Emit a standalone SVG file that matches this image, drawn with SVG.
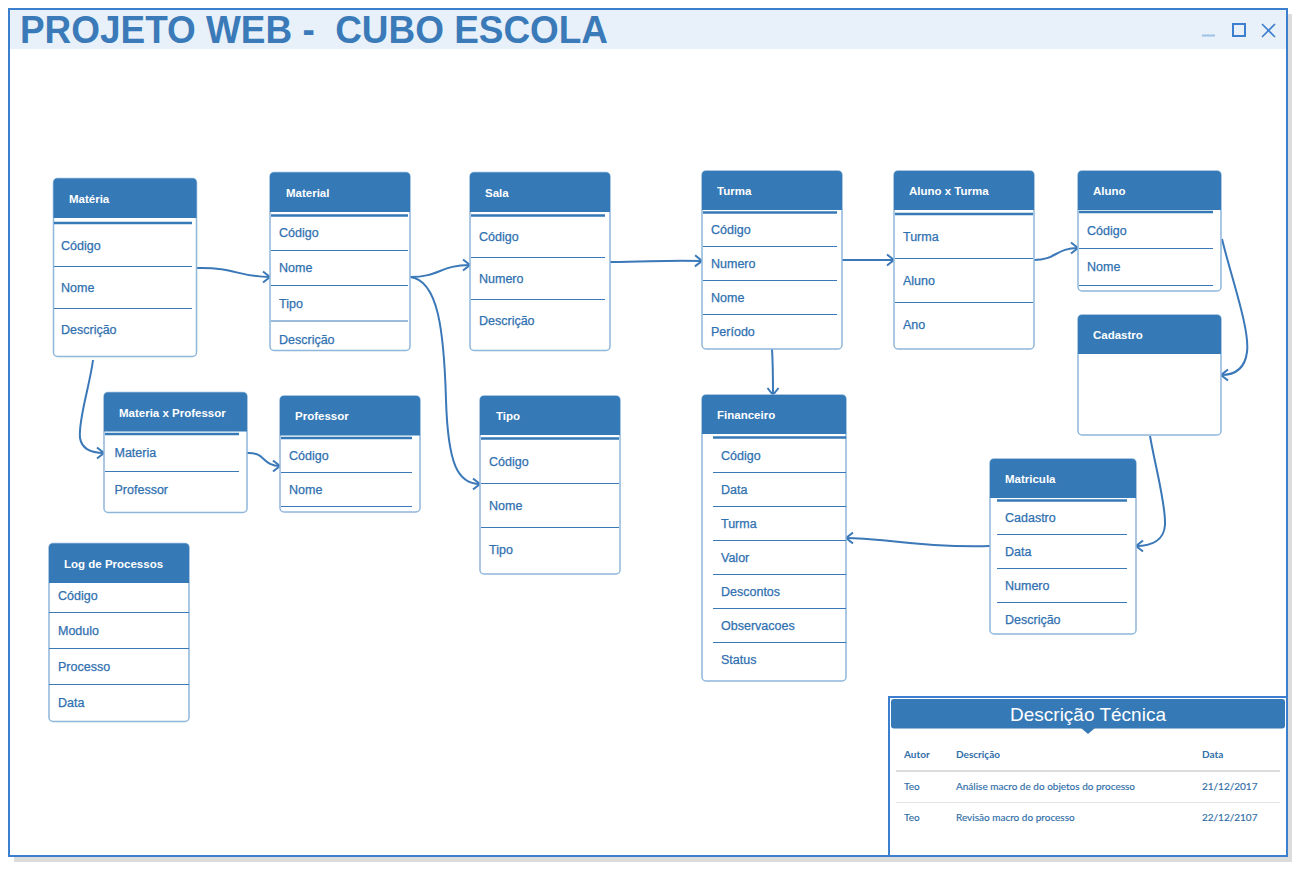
<svg xmlns="http://www.w3.org/2000/svg" width="1304" height="882" viewBox="0 0 1304 882">
<defs>
<style>
.box{fill:#fff;stroke:#8fb7dc;stroke-width:1.5}
.hdr{fill:#3579b6}
.sep{stroke:#3a78b8;stroke-width:1}
.dbl{stroke:#3579b6;stroke-width:2.5}
.ht{font-family:"Liberation Sans",Arial,sans-serif;font-size:11.5px;font-weight:bold;fill:#fff}
.rt{font-family:"Liberation Sans",Arial,sans-serif;font-size:12.5px;fill:#2f70b0;stroke:#2f70b0;stroke-width:0.25}
.conn{fill:none;stroke:#3a78b8;stroke-width:2;marker-end:url(#arr)}
.tt{font-family:Lato,"Liberation Sans",sans-serif;font-size:10px;fill:#2f6ea8;stroke:#2f6ea8;stroke-width:0.15}
.th{font-family:Lato,"Liberation Sans",sans-serif;font-size:10px;font-weight:bold;fill:#2f6ea8}
</style>
<marker id="arr" markerUnits="userSpaceOnUse" markerWidth="14" markerHeight="14" refX="10" refY="7" orient="auto">
<path d="M3,1.5 L10,7 L3,12.5" fill="none" stroke="#3a78b8" stroke-width="2"/>
</marker>
</defs>
<rect width="1304" height="882" fill="#fff"/>
<!-- window frame -->
<g id="frame">
<rect x="14" y="14" width="1278" height="848" fill="#dcdcdc"/>
<rect x="9" y="9" width="1278" height="847" fill="#fff" stroke="#3d7fcf" stroke-width="2"/>
<rect x="10" y="10" width="1276" height="39" fill="#e8f1f9"/>
<text x="20" y="43" xml:space="preserve" style="white-space:pre" font-family="'Liberation Sans',Arial,sans-serif" font-size="38" font-weight="bold" fill="#3a7ab8" textLength="588" lengthAdjust="spacingAndGlyphs">PROJETO WEB -  CUBO ESCOLA</text>
<line x1="1202" y1="35.5" x2="1215" y2="35.5" stroke="#9cc3e6" stroke-width="2"/>
<rect x="1233" y="24" width="12" height="12" fill="none" stroke="#3d7fcf" stroke-width="2"/>
<path d="M1262,24 L1275,37 M1275,24 L1262,37" stroke="#3d7fcf" stroke-width="1.6" fill="none"/>
</g>
<!-- connectors -->
<g id="connectors">
<path class="conn" d="M197,268 C235,267 238,277 270,277"/>
<path class="conn" d="M410,277 C440,277 440,265 470,265"/>
<path class="conn" d="M410,277 C438,280 444,330 446,400 C448,465 458,484 480,484"/>
<path class="conn" d="M610,262 C650,262 660,260 702,261"/>
<path class="conn" d="M842,260 L894,260"/>
<path class="conn" d="M1034,260 C1056,260 1056,248 1078,248"/>
<path class="conn" d="M1222,239 C1232,280 1250,330 1247,352 C1245,368 1236,375 1221,375"/>
<path class="conn" d="M1150,436 C1156,470 1166,505 1165,525 C1164,540 1152,546 1136,546"/>
<path class="conn" d="M990,546 C955,547 925,545 890,541 C870,539 860,538 846,538"/>
<path class="conn" d="M772,349 C773,365 773,380 773,395"/>
<path class="conn" d="M93,360 C90,385 78,420 80,438 C82,450 92,453 104,453"/>
<path class="conn" d="M247,453 C266,452 262,466 280,466"/>
</g>
<!-- Materia -->
<g id="materia">
<rect class="box" x="53.5" y="178.5" width="143" height="178" rx="4"/>
<path class="hdr" d="M53.5,218 V182.5 Q53.5,178.5 57.5,178.5 H192.5 Q196.5,178.5 196.5,182.5 V218 Z"/>
<line class="dbl" x1="54" y1="223" x2="192" y2="223"/>
<text class="ht" x="69" y="203">Matéria</text>
<line class="sep" x1="54" y1="266.5" x2="192" y2="266.5"/>
<line class="sep" x1="54" y1="308.5" x2="192" y2="308.5"/>
<text class="rt" x="61" y="250">Código</text>
<text class="rt" x="61" y="292">Nome</text>
<text class="rt" x="61" y="334">Descrição</text>
</g>
<!-- Material -->
<g id="material">
<rect class="box" x="270" y="172.5" width="140" height="178" rx="4"/>
<path class="hdr" d="M270,212 V176.5 Q270,172.5 274,172.5 H406 Q410,172.5 410,176.5 V212 Z"/>
<line class="dbl" x1="271" y1="215.5" x2="408" y2="215.5"/>
<text class="ht" x="286" y="197">Material</text>
<line class="sep" x1="271" y1="250.5" x2="408" y2="250.5"/>
<line class="sep" x1="271" y1="285.5" x2="408" y2="285.5"/>
<line class="sep" x1="271" y1="321" x2="408" y2="321"/>
<text class="rt" x="279" y="237">Código</text>
<text class="rt" x="279" y="272">Nome</text>
<text class="rt" x="279" y="308">Tipo</text>
<text class="rt" x="279" y="344">Descrição</text>
</g>
<!-- Sala -->
<g id="sala">
<rect class="box" x="470" y="172.5" width="140" height="178" rx="4"/>
<path class="hdr" d="M470,212 V176.5 Q470,172.5 474,172.5 H606 Q610,172.5 610,176.5 V212 Z"/>
<line class="dbl" x1="471" y1="215.5" x2="605" y2="215.5"/>
<text class="ht" x="485" y="197">Sala</text>
<line class="sep" x1="471" y1="257.5" x2="605" y2="257.5"/>
<line class="sep" x1="471" y1="299.5" x2="605" y2="299.5"/>
<text class="rt" x="479" y="241">Código</text>
<text class="rt" x="479" y="283">Numero</text>
<text class="rt" x="479" y="325">Descrição</text>
</g>
<!-- Turma -->
<g id="turma">
<rect class="box" x="702" y="171" width="140" height="178" rx="4"/>
<path class="hdr" d="M702,210 V175 Q702,171 706,171 H838 Q842,171 842,175 V210 Z"/>
<line class="dbl" x1="703" y1="212.5" x2="837" y2="212.5"/>
<text class="ht" x="717" y="195">Turma</text>
<line class="sep" x1="703" y1="246.5" x2="837" y2="246.5"/>
<line class="sep" x1="703" y1="280.5" x2="837" y2="280.5"/>
<line class="sep" x1="703" y1="314.5" x2="837" y2="314.5"/>
<text class="rt" x="711" y="234">Código</text>
<text class="rt" x="711" y="268">Numero</text>
<text class="rt" x="711" y="302">Nome</text>
<text class="rt" x="711" y="336">Período</text>
</g>
<!-- Aluno x Turma -->
<g id="aluno-turma">
<rect class="box" x="894" y="171" width="140" height="178" rx="4"/>
<path class="hdr" d="M894,210 V175 Q894,171 898,171 H1030 Q1034,171 1034,175 V210 Z"/>
<line class="dbl" x1="895" y1="214" x2="1033" y2="214"/>
<text class="ht" x="909" y="195">Aluno x Turma</text>
<line class="sep" x1="895" y1="258.5" x2="1033" y2="258.5"/>
<line class="sep" x1="895" y1="302.5" x2="1033" y2="302.5"/>
<text class="rt" x="903" y="241">Turma</text>
<text class="rt" x="903" y="285">Aluno</text>
<text class="rt" x="903" y="329">Ano</text>
</g>
<!-- Aluno -->
<g id="aluno">
<rect class="box" x="1078" y="171" width="143" height="120" rx="4"/>
<path class="hdr" d="M1078,210 V175 Q1078,171 1082,171 H1217 Q1221,171 1221,175 V210 Z"/>
<line class="dbl" x1="1079" y1="212" x2="1213" y2="212"/>
<text class="ht" x="1093" y="195">Aluno</text>
<line class="sep" x1="1079" y1="248.5" x2="1213" y2="248.5"/>
<line class="sep" x1="1079" y1="285.5" x2="1213" y2="285.5"/>
<text class="rt" x="1087" y="235">Código</text>
<text class="rt" x="1087" y="271">Nome</text>
</g>
<!-- Cadastro -->
<g id="cadastro">
<rect class="box" x="1078" y="315" width="143" height="120" rx="4"/>
<path class="hdr" d="M1078,354 V319 Q1078,315 1082,315 H1217 Q1221,315 1221,319 V354 Z"/>
<text class="ht" x="1093" y="339">Cadastro</text>
</g>
<!-- Materia x Professor -->
<g id="materia-professor">
<rect class="box" x="104" y="392.5" width="143" height="120" rx="4"/>
<path class="hdr" d="M104,431.5 V396.5 Q104,392.5 108,392.5 H243 Q247,392.5 247,396.5 V431.5 Z"/>
<line class="dbl" x1="105" y1="434" x2="239" y2="434"/>
<text class="ht" x="119" y="417">Materia x Professor</text>
<line class="sep" x1="105" y1="471.5" x2="239" y2="471.5"/>
<text class="rt" x="114.5" y="457">Materia</text>
<text class="rt" x="114.5" y="494">Professor</text>
</g>
<!-- Professor -->
<g id="professor">
<rect class="box" x="280" y="396" width="140" height="116" rx="4"/>
<path class="hdr" d="M280,435.5 V400 Q280,396 284,396 H416 Q420,396 420,400 V435.5 Z"/>
<line class="dbl" x1="281" y1="438" x2="412" y2="438"/>
<text class="ht" x="295" y="420">Professor</text>
<line class="sep" x1="281" y1="472.5" x2="412" y2="472.5"/>
<line class="sep" x1="281" y1="506.5" x2="412" y2="506.5"/>
<text class="rt" x="289" y="460">Código</text>
<text class="rt" x="289" y="494">Nome</text>
</g>
<!-- Tipo -->
<g id="tipo">
<rect class="box" x="480" y="396" width="140" height="178" rx="4"/>
<path class="hdr" d="M480,435 V400 Q480,396 484,396 H616 Q620,396 620,400 V435 Z"/>
<line class="dbl" x1="481" y1="438.5" x2="619" y2="438.5"/>
<text class="ht" x="496" y="420">Tipo</text>
<line class="sep" x1="481" y1="483.5" x2="619" y2="483.5"/>
<line class="sep" x1="481" y1="527.5" x2="619" y2="527.5"/>
<text class="rt" x="489" y="466">Código</text>
<text class="rt" x="489" y="510">Nome</text>
<text class="rt" x="489" y="554">Tipo</text>
</g>
<!-- Financeiro -->
<g id="financeiro">
<rect class="box" x="702" y="395" width="144" height="286" rx="4"/>
<path class="hdr" d="M702,434 V399 Q702,395 706,395 H842 Q846,395 846,399 V434 Z"/>
<line class="dbl" x1="713" y1="437.5" x2="846" y2="437.5"/>
<text class="ht" x="717" y="419">Financeiro</text>
<line class="sep" x1="713" y1="472.5" x2="846" y2="472.5"/>
<line class="sep" x1="713" y1="506.5" x2="846" y2="506.5"/>
<line class="sep" x1="713" y1="540.5" x2="846" y2="540.5"/>
<line class="sep" x1="713" y1="574.5" x2="846" y2="574.5"/>
<line class="sep" x1="713" y1="608.5" x2="846" y2="608.5"/>
<line class="sep" x1="713" y1="642.5" x2="846" y2="642.5"/>
<text class="rt" x="721" y="460">Código</text>
<text class="rt" x="721" y="494">Data</text>
<text class="rt" x="721" y="528">Turma</text>
<text class="rt" x="721" y="562">Valor</text>
<text class="rt" x="721" y="596">Descontos</text>
<text class="rt" x="721" y="630">Observacoes</text>
<text class="rt" x="721" y="664">Status</text>
</g>
<!-- Matricula -->
<g id="matricula">
<rect class="box" x="990" y="459" width="146" height="175" rx="4"/>
<path class="hdr" d="M990,498 V463 Q990,459 994,459 H1132 Q1136,459 1136,463 V498 Z"/>
<line class="dbl" x1="997" y1="500.5" x2="1127" y2="500.5"/>
<text class="ht" x="1005" y="483">Matricula</text>
<line class="sep" x1="997" y1="534.5" x2="1127" y2="534.5"/>
<line class="sep" x1="997" y1="568.5" x2="1127" y2="568.5"/>
<line class="sep" x1="997" y1="602.5" x2="1127" y2="602.5"/>
<text class="rt" x="1005" y="522">Cadastro</text>
<text class="rt" x="1005" y="556">Data</text>
<text class="rt" x="1005" y="590">Numero</text>
<text class="rt" x="1005" y="624">Descrição</text>
</g>
<!-- Log de Processos -->
<g id="log">
<rect class="box" x="49" y="543.5" width="140" height="178" rx="4"/>
<path class="hdr" d="M49,583 V547.5 Q49,543.5 53,543.5 H185 Q189,543.5 189,547.5 V583 Z"/>
<text class="ht" x="64" y="568">Log de Processos</text>
<line class="sep" x1="49" y1="612.5" x2="189" y2="612.5"/>
<line class="sep" x1="49" y1="648.5" x2="189" y2="648.5"/>
<line class="sep" x1="49" y1="684.5" x2="189" y2="684.5"/>
<text class="rt" x="58" y="600">Código</text>
<text class="rt" x="58" y="635">Modulo</text>
<text class="rt" x="58" y="671">Processo</text>
<text class="rt" x="58" y="707">Data</text>
</g>
<!-- Descricao Tecnica -->
<g id="descricao-tecnica">
<path d="M889,856 V697 H1287" fill="none" stroke="#3d7fcf" stroke-width="2"/>
<rect x="891" y="699" width="394" height="29.5" rx="3" fill="#3579b6"/>
<path d="M1081,728 L1088,734 L1095,728 Z" fill="#3579b6"/>
<text x="1088" y="721" text-anchor="middle" font-family="'Liberation Sans',Arial,sans-serif" font-size="19" fill="#fff">Descrição Técnica</text>
<text class="th" x="904" y="758">Autor</text>
<text class="th" x="956" y="758">Descrição</text>
<text class="th" x="1202" y="758">Data</text>
<line x1="896" y1="771" x2="1280" y2="771" stroke="#dcdcdc" stroke-width="2"/>
<text class="tt" x="904" y="790">Teo</text>
<text class="tt" x="956" y="790">Análise macro de do objetos do processo</text>
<text class="tt" x="1202" y="790">21/12/2017</text>
<line x1="896" y1="802.5" x2="1280" y2="802.5" stroke="#e3e3e3" stroke-width="1"/>
<text class="tt" x="904" y="821">Teo</text>
<text class="tt" x="956" y="821">Revisão macro do processo</text>
<text class="tt" x="1202" y="821">22/12/2107</text>
</g>
</svg>
